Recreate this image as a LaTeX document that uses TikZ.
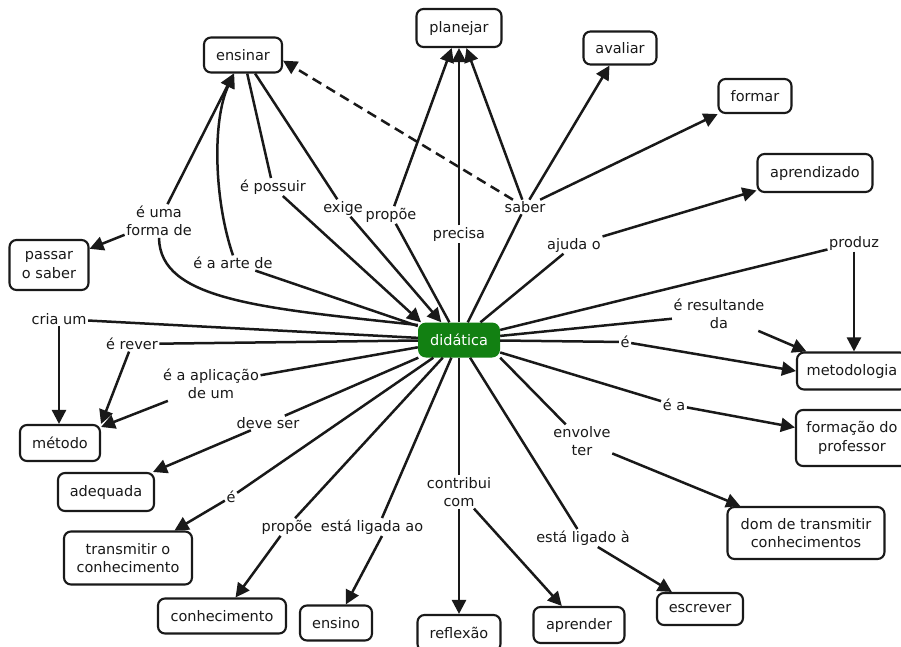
\documentclass[tikz,border=0pt]{standalone}
\usepackage{fontspec}
\setmainfont{DejaVu Sans}
\usetikzlibrary{arrows.meta}
\definecolor{didgreen}{RGB}{18,128,18}
\definecolor{ink}{RGB}{25,25,25}
\begin{document}
\begin{tikzpicture}[x=1pt,y=-1pt,
  font=\fontsize{14.5}{18.5}\selectfont,
  concept/.style={draw=ink, line width=2.1pt, rounded corners=7pt, fill=white, align=center, inner sep=0pt, text=ink},
  lbl/.style={align=center, inner sep=1.5pt, text=ink},
  link/.style={draw=ink, line width=2.5pt},
  arr/.style={link, -{Triangle[length=14pt,width=14pt]}},
  dashlink/.style={dash pattern=on 10pt off 6pt},
]
\useasboundingbox (0,0) rectangle (901,646);

% concepts
\node[concept, minimum width=78pt, minimum height=35pt] (ensinar) at (243,55) {ensinar};
\node[concept, minimum width=85pt, minimum height=38pt] (planejar) at (459,28) {planejar};
\node[concept, minimum width=73pt, minimum height=33pt] (avaliar) at (620,48) {avaliar};
\node[concept, minimum width=73pt, minimum height=34pt] (formar) at (755,96) {formar};
\node[concept, minimum width=115pt, minimum height=38pt] (aprendizado) at (815,173) {aprendizado};
\node[concept, minimum width=79pt, minimum height=50pt] (passar) at (49,265) {passar\\o saber};
\node[fill=didgreen, rounded corners=8pt, text=white, inner sep=0pt, minimum width=82pt, minimum height=35pt] (didatica) at (459,340) {didática};
\node[concept, minimum width=110pt, minimum height=37pt] (metodologia) at (852,371) {metodologia};
\node[concept, minimum width=112pt, minimum height=56pt] (formacao) at (852,438) {formação do\\professor};
\node[concept, minimum width=80pt, minimum height=36pt] (metodo) at (60,443) {método};
\node[concept, minimum width=96pt, minimum height=38pt] (adequada) at (106,492) {adequada};
\node[concept, minimum width=128pt, minimum height=53pt] (transmitir) at (128,558) {transmitir o\\conhecimento};
\node[concept, minimum width=128pt, minimum height=35pt] (conhecimento) at (222,616) {conhecimento};
\node[concept, minimum width=72pt, minimum height=35pt] (ensino) at (336,623) {ensino};
\node[concept, minimum width=83pt, minimum height=36pt] (reflexao) at (459,633) {reflexão};
\node[concept, minimum width=91pt, minimum height=36pt] (aprender) at (579,625) {aprender};
\node[concept, minimum width=86pt, minimum height=32pt] (escrever) at (700,609) {escrever};
\node[concept, minimum width=157pt, minimum height=52pt] (dom) at (806,533) {dom de transmitir\\conhecimentos};

% linking phrases
\node[lbl] (l_forma) at (159,221) {é uma\\forma de};
\node[lbl] (l_possuir) at (273,187) {é possuir};
\node[lbl] (l_exige) at (343,208) {exige};
\node[lbl] (l_propoe1) at (391,215) {propõe};
\node[lbl] (l_precisa) at (459,234) {precisa};
\node[lbl] (l_saber) at (525,207) {saber};
\node[lbl] (l_ajuda) at (574,245) {ajuda o};
\node[lbl] (l_produz) at (854,243) {produz};
\node[lbl] (l_result) at (719,314) {é resultande\\da};
\node[lbl] (l_e1) at (625,342) {é};
\node[lbl] (l_ea) at (674,405) {é a};
\node[lbl] (l_envolve) at (582,441) {envolve\\ter};
\node[lbl] (l_ligado) at (583,538) {está ligado à};
\node[lbl] (l_contrib) at (459,492) {contribui\\com};
\node[lbl] (l_ligada) at (372,527) {está ligada ao};
\node[lbl] (l_propoe2) at (287,527) {propõe};
\node[lbl] (l_e2) at (231,497) {é};
\node[lbl] (l_deve) at (268,423) {deve ser};
\node[lbl] (l_aplic) at (211,384) {é a aplicação\\de um};
\node[lbl] (l_rever) at (132,344) {é rever};
\node[lbl] (l_cria) at (59,319) {cria um};
\node[lbl] (l_arte) at (233,263) {é a arte de};

% connectors
\draw[link] (didatica.160) .. controls (260,308) and (160,300) .. (l_forma.south);
\draw[arr] (l_forma) -- (ensinar);
\draw[arr] (l_forma) -- (passar);
\draw[link] (didatica) -- (l_arte);
\draw[arr] (l_arte.north) .. controls (214,200) and (212,120) .. (ensinar);
\draw[link] (ensinar) -- (l_possuir);
\draw[arr] (l_possuir) -- (didatica.155);
\draw[link] (ensinar) -- (l_exige);
\draw[arr] (l_exige) -- (didatica.135);
\draw[link] (didatica) -- (l_propoe1);
\draw[arr] (l_propoe1) -- (planejar);
\draw[link] (didatica) -- (l_precisa);
\draw[arr] (l_precisa) -- (planejar);
\draw[link] (didatica) -- (l_saber);
\draw[arr] (l_saber) -- (planejar);
\draw[arr] (l_saber) -- (avaliar);
\draw[arr] (l_saber) -- (formar);
\draw[arr, dashlink] (l_saber) -- (ensinar.-8);
\draw[link] (didatica) -- (l_ajuda);
\draw[arr] (l_ajuda) -- (aprendizado);
\draw[link] (didatica) -- (l_produz);
\draw[arr] (l_produz) -- (l_produz |- metodologia.north);
\draw[link] (didatica) -- (l_result);
\draw[arr] (l_result) -- (metodologia);
\draw[link] (didatica) -- (l_e1);
\draw[arr] (l_e1) -- (metodologia.west);
\draw[link] (didatica) -- (l_ea);
\draw[arr] (l_ea) -- (formacao);
\draw[link] (didatica.south east) -- (l_envolve);
\draw[arr] (l_envolve) -- (dom);
\draw[link] (didatica) -- (l_ligado);
\draw[arr] (l_ligado) -- (escrever);
\draw[link] (didatica) -- (l_contrib);
\draw[arr] (l_contrib) -- (reflexao);
\draw[arr] (l_contrib) -- (aprender);
\draw[link] (didatica) -- ([xshift=10pt]l_ligada.north);
\draw[arr] ([xshift=10pt]l_ligada.south) -- (ensino);
\draw[link] (didatica) -- (l_propoe2);
\draw[arr] (l_propoe2) -- (conhecimento);
\draw[link] (didatica) -- (l_e2);
\draw[arr] (l_e2) -- (transmitir);
\draw[link] (didatica) -- (l_deve);
\draw[arr] (l_deve) -- (adequada);
\draw[link] (didatica) -- (l_aplic);
\draw[arr] (l_aplic) -- (metodo);
\draw[link] (didatica) -- (l_rever);
\draw[arr] (l_rever) -- (metodo.north east);
\draw[link] (didatica) -- (l_cria);
\draw[arr] (l_cria) -- (l_cria |- metodo.north);
\end{tikzpicture}
\end{document}
